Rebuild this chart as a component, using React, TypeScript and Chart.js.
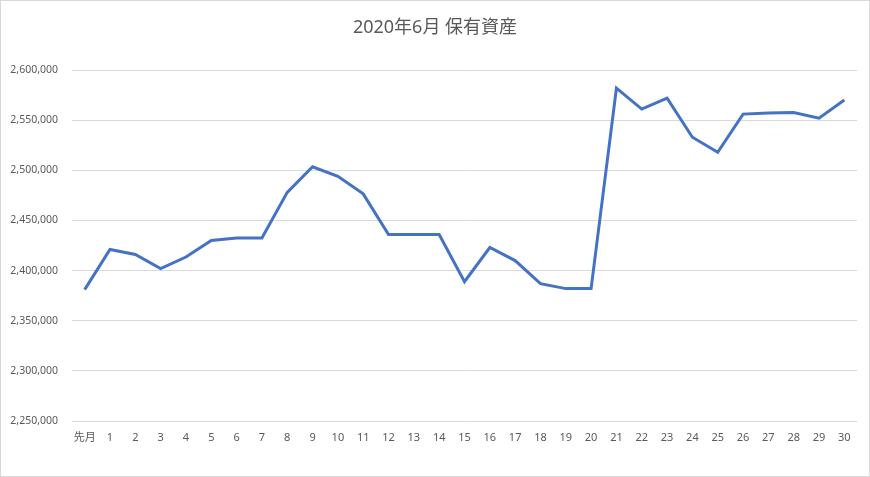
import React, { useEffect, useRef } from "react";
import { Chart, registerables } from "chart.js";

Chart.register(...registerables);

const TITLE = "2020年6月 保有資産";
const LABELS = ["先月", "1", "2", "3", "4", "5", "6", "7", "8", "9", "10", "11", "12", "13", "14", "15", "16", "17", "18", "19", "20", "21", "22", "23", "24", "25", "26", "27", "28", "29", "30"];
const VALUES = [2381000, 2421000, 2416000, 2402000, 2413500, 2430000, 2432500, 2432500, 2478000, 2503500, 2494000, 2476500, 2436000, 2436000, 2436000, 2389000, 2423000, 2410000, 2387000, 2382000, 2382000, 2582000, 2561000, 2572000, 2533000, 2518000, 2556000, 2557000, 2557500, 2552000, 2570000];
const Y_MIN = 2250000;
const Y_MAX = 2600000;
const Y_STEP = 50000;

const FONT = "'Noto Sans', 'Noto Sans CJK JP', sans-serif";

export default function App() {
  const ref = useRef<HTMLCanvasElement>(null);
  useEffect(() => {
    document.body.style.margin = "0";
    const titlePlugin = {
      id: "customTitle",
      afterDraw(chart: any) {
        const ctx = chart.ctx;
        ctx.save();
        ctx.font = `18px ${FONT}`;
        ctx.fillStyle = "#595959";
        ctx.textAlign = "center";
        ctx.textBaseline = "middle";
        ctx.fillText(TITLE, chart.width / 2, 27);
        ctx.restore();
      },
    };
    const chart = new Chart(ref.current!, {
      type: "line",
      data: {
        labels: LABELS,
        datasets: [
          {
            data: VALUES,
            borderColor: "#4472C4",
            borderWidth: 3,
            pointRadius: 0,
            tension: 0,
            fill: false,
          },
        ],
      },
      options: {
        animation: false,
        responsive: false,
        maintainAspectRatio: false,
        layout: { padding: { top: 69, right: 12, bottom: 0, left: 0 } },
        plugins: { legend: { display: false }, title: { display: false }, tooltip: { enabled: false } },
        scales: {
          x: {
            offset: true,
            grid: { display: false, drawTicks: false },
            border: { display: false },
            ticks: { color: "#595959", font: { family: FONT, size: 11 }, padding: 10, maxRotation: 0, autoSkip: false },
            afterFit: (s: any) => { s.height = 55; },
          },
          y: {
            min: Y_MIN,
            max: Y_MAX,
            grid: { color: "#d9d9d9", lineWidth: 1, drawTicks: false },
            border: { display: false },
            ticks: {
              stepSize: Y_STEP,
              color: "#595959",
              font: { family: FONT, size: 10.5 },
              padding: 14,
              callback: (v: any) => Number(v).toLocaleString("en-US"),
            },
            afterFit: (s: any) => { s.width = 71; },
          },
        },
      },
      plugins: [titlePlugin],
    });
    return () => chart.destroy();
  }, []);
  return (
    <div style={{ position: "absolute", left: 0, top: 0, width: 870, height: 477, boxSizing: "border-box", border: "1px solid #d9d9d9", background: "#fff" }}>
      <canvas ref={ref} width={868} height={475} style={{ display: "block", width: 868, height: 475 }} />
    </div>
  );
}
